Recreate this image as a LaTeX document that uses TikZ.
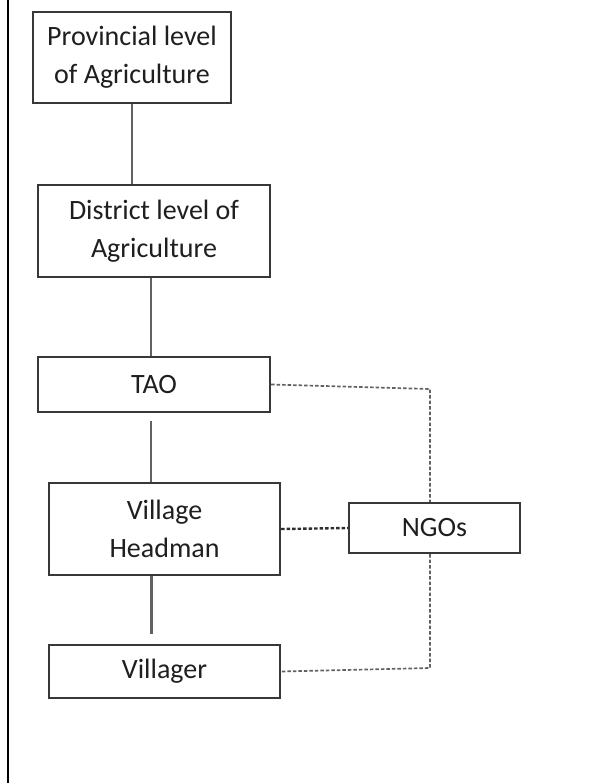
\documentclass[tikz,border=0pt]{standalone}
\usepackage{fontspec}
\setmainfont{Carlito}
\begin{document}
\begin{tikzpicture}[x=1pt,y=-1pt,
  box/.style={draw=black!78, line width=2.2pt, fill=white, align=center,
    inner sep=0pt, text=black!88, font=\fontsize{28}{38}\selectfont},
  link/.style={draw=black!62, line width=2.2pt},
  dotlink/.style={draw=black!62, line width=1.7pt, dash pattern=on 3.5pt off 2pt},
  strongdot/.style={draw=black!82, line width=2.4pt, dash pattern=on 3.5pt off 2pt}]
\useasboundingbox (0,0) rectangle (611,783);
% left frame rule
\draw[line width=1.6pt] (8,0) -- (8,783);

% hierarchy boxes
\node[box, minimum width=198, minimum height=91] (prov) at (132,57.5) {Provincial level\\of Agriculture};
\node[box, minimum width=232, minimum height=92] (dist) at (154,231) {District level of\\Agriculture};
\node[box, minimum width=232, minimum height=55] (tao) at (154,384.5) {TAO};
\node[box, minimum width=231, minimum height=92] (head) at (164.5,529) {Village\\Headman};
\node[box, minimum width=231, minimum height=53] (vil) at (164.5,671.5) {Villager};
\node[box, minimum width=171, minimum height=50] (ngo) at (434.5,528) {NGOs};

% solid chain
\draw[link] (prov.south) -- (prov.south |- dist.north);
\draw[link] ([xshift=-3pt]dist.south) -- ([xshift=-3pt]tao.north);
\draw[link, shorten <=8pt] ([xshift=-3pt]tao.south) -- ([xshift=-3pt]tao.south |- head.north);
\draw[link, shorten >=10pt] ([xshift=-13pt]head.south) -- ([xshift=-13pt]head.south |- vil.north);

% NGO links
\coordinate (ct) at (430,389);
\coordinate (cb) at (430,668);
\draw[dotlink] (tao.east) -- (ct) -- (ct |- ngo.north);
\draw[dotlink] (cb |- ngo.south) -- (cb) -- (vil.east);
\draw[strongdot] (head.east) -- (ngo.west);
\end{tikzpicture}
\end{document}
